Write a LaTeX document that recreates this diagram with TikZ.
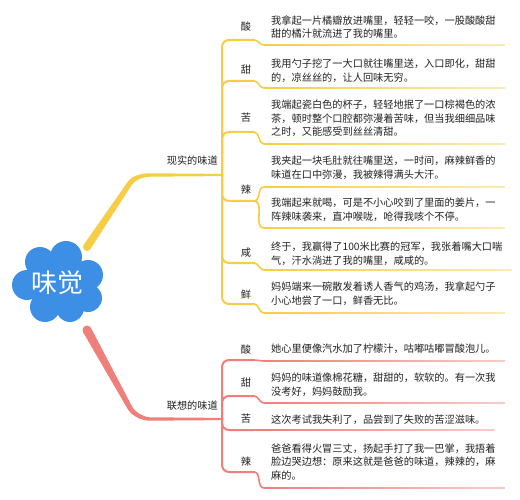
\documentclass[tikz,border=0pt]{standalone}
\usepackage{fontspec}
\setmainfont{Noto Sans CJK SC}
\usetikzlibrary{calc}
\definecolor{yel}{HTML}{F6CD45}
\definecolor{pnk}{HTML}{EF7F7A}
\definecolor{blu}{HTML}{3D8FE6}
\definecolor{ink}{HTML}{222222}
\tikzset{
  lab/.style={font=\fontsize{10.2}{13.6}\selectfont, text=ink, inner sep=0pt},
  desc/.style={font=\fontsize{10.2}{13.6}\selectfont, text=ink, inner sep=0pt, align=left, anchor=west},
  trunkline/.style={line width=2pt, line cap=round, rounded corners=7pt},
  uline/.style={line width=1.6pt, line cap=round},
}
% colour, junction, name, character, y, label-underline y
\newcommand\flav[6]{%
  \node[lab] (#3) at (246,#5) {#4};
  \coordinate (#3-s) at (254,#6);
  \draw[#1,trunkline] (#2) |- (#3-s);
}
% colour, from, name, text centre y, underline y, text
\newcommand\descr[6]{%
  \node[desc] (#3) at (271,#4) {#6};
  \coordinate (#3-u) at (264,#5);
  \draw[#1,uline] (#2) to[out=0,in=180] (#3-u) -- +(3,0);
  \shade[left color=#1, right color=#1!40!white] ($(#3-u)+(0,-0.8)$) rectangle ($([xshift=9pt]#3.east |- #3-u)+(0,0.8)$);
}
\begin{document}
\begin{tikzpicture}[x=1pt,y=-1pt]
\useasboundingbox[fill=white] (0,0) rectangle (520,500);

% cloud
\fill[blu] (57,283) circle (26pt) (40,262) circle (15pt) (66,257) circle (16pt)
  (88,275) circle (15pt) (88,298) circle (14pt) (70,308) circle (14pt)
  (45,307) circle (15pt) (27,285) circle (15pt);
\node[text=white, inner sep=0pt, font=\fontsize{26}{26}\selectfont] (cloud) at (57,283) {味觉};

% main branches
\coordinate (J1) at (222,175);
\coordinate (J2) at (222,419);
\fill[yel] (87,247) circle (4pt);
\fill[yel] (83.7,244.8) -- (127.9,181.6) .. controls (131.2,176.6) and (140,173.3) .. (150,173.3)
  -- (222,173.9) -- (222,176.1) -- (150,176.7) .. controls (144,176.7) and (135.4,179.4) .. (132.1,184.4)
  -- (90.3,249.2) -- cycle;
\fill[pnk] (87,330) circle (4.5pt);
\fill[pnk] (90.9,327.8) -- (132.2,406.8) .. controls (135.1,412.1) and (144,417.3) .. (150,417.3)
  -- (222,417.9) -- (222,420.1) -- (150,420.7) .. controls (140,420.7) and (130.7,414.5) .. (127.8,409.2)
  -- (83.1,332.2) -- cycle;

\node[lab, anchor=east] (real) at (218,161) {现实的味道};
\node[lab, anchor=east] (assoc) at (218,406) {联想的味道};

% yellow leaves
\flav{yel}{J1}{ys}{酸}{27}{40}
\descr{yel}{ys-s}{ysd}{27}{45}{我拿起一片橘瓣放进嘴里，轻轻一咬，一股酸酸甜\\甜的橘汁就流进了我的嘴里。}
\flav{yel}{J1}{yt}{甜}{70}{81}
\descr{yel}{yt-s}{ytd}{71}{88}{我用勺子挖了一大口就往嘴里送，入口即化，甜甜\\的，凉丝丝的，让人回味无穷。}
\flav{yel}{J1}{yk}{苦}{118}{132}
\descr{yel}{yk-s}{ykd}{118.5}{144}{我端起瓷白色的杯子，轻轻地抿了一口棕褐色的浓\\茶，顿时整个口腔都弥漫着苦味，但当我细细品味\\之时，又能感受到丝丝清甜。}
\flav{yel}{J1}{yl}{辣}{190}{201}
\descr{yel}{yl-s}{yld}{168}{187}{我夹起一块毛肚就往嘴里送，一时间，麻辣鲜香的\\味道在口中弥漫，我被辣得满头大汗。}
\descr{yel}{yl-s}{yle}{210}{228}{我端起来就喝，可是不小心咬到了里面的姜片，一\\阵辣味袭来，直冲喉咙，呛得我咳个不停。}
\flav{yel}{J1}{yx}{咸}{253}{263}
\descr{yel}{yx-s}{yxd}{253.5}{270}{终于，我赢得了100米比赛的冠军，我张着嘴大口喘\\气，汗水淌进了我的嘴里，咸咸的。}
\flav{yel}{J1}{yf}{鲜}{295}{304}
\descr{yel}{yf-s}{yfd}{293.5}{313}{妈妈端来一碗散发着诱人香气的鸡汤，我拿起勺子\\小心地尝了一口，鲜香无比。}

% pink leaves
\flav{pnk}{J2}{ps}{酸}{350}{360}
\descr{pnk}{ps-s}{psd}{349}{361}{她心里便像汽水加了柠檬汁，咕嘟咕嘟冒酸泡儿。}
\flav{pnk}{J2}{pt}{甜}{383}{396}
\descr{pnk}{pt-s}{ptd}{384.5}{403}{妈妈的味道像棉花糖，甜甜的，软软的。有一次我\\没考好，妈妈鼓励我。}
\flav{pnk}{J2}{pk}{苦}{419}{430}
\descr{pnk}{pk-s}{pkd}{420}{430}{这次考试我失利了，品尝到了失败的苦涩滋味。}
\flav{pnk}{J2}{pl}{辣}{462}{472}
\descr{pnk}{pl-s}{pld}{462}{488}{爸爸看得火冒三丈，扬起手打了我一巴掌，我捂着\\脸边哭边想：原来这就是爸爸的味道，辣辣的，麻\\麻的。}
\end{tikzpicture}
\end{document}
